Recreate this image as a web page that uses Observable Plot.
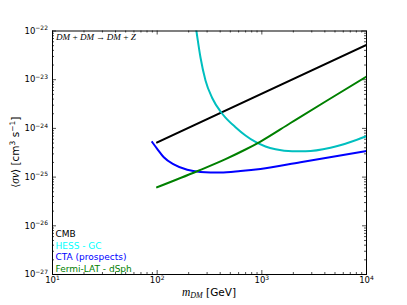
<!DOCTYPE html>
<html><head><meta charset="utf-8">
<script src="https://cdn.jsdelivr.net/npm/d3@7"></script>
<script src="https://cdn.jsdelivr.net/npm/@observablehq/plot@0.6"></script>
<style>body{margin:0;background:#fff;} svg{display:block;}</style>
</head><body><div id="chart"></div>
<script>
// ---- data ----
const cmbMass   = [100, 10000];
const cmbSigma  = [5.15e-25, 5.2e-23];

const hessMass  = [226, 237.5, 259.4, 289.6, 335.6, 402.7, 449.5, 560.3, 698.2, 869.9, 1084, 1351, 1950, 2613, 4529, 7031, 10000];
const hessSigma = [2.0e-22, 9.77e-23, 2.86e-23, 9.63e-24, 4.21e-24, 2.22e-24, 1.67e-24, 1.06e-24, 7.15e-25, 5.26e-25, 4.25e-25, 3.72e-25, 3.39e-25, 3.39e-25, 4.0e-25, 5.26e-25, 6.92e-25];

const ctaMass   = [89.7, 100, 115.7, 144.2, 193.6, 259.4, 402.7, 625, 970.6, 2339, 10000];
const ctaSigma  = [5.21e-25, 3.81e-25, 2.56e-25, 1.82e-25, 1.41e-25, 1.28e-25, 1.24e-25, 1.33e-25, 1.47e-25, 2.02e-25, 3.44e-25];

const fermiMass  = [100, 241, 450, 698, 971, 1879, 4207, 10000];
const fermiSigma = [6.2e-26, 1.32e-25, 2.34e-25, 3.69e-25, 5.38e-25, 1.29e-24, 3.74e-24, 1.16e-23];

const seriesNames  = ["CMB", "HESS - GC", "CTA (prospects)", "Fermi-LAT - dSph"];
const lineColors   = ["#000000", "#00bfbf", "#0000ff", "#008000"];
const labelColors  = ["#000000", "#00ffff", "#0000ff", "#008000"];

const xTicks    = [10, 100, 1000, 10000];
const xTickExps = ["1", "2", "3", "4"];
const yTicks    = [1e-27, 1e-26, 1e-25, 1e-24, 1e-23, 1e-22];
const yTickExps = ["\u221227", "\u221226", "\u221225", "\u221224", "\u221223", "\u221222"];
const annotation = "DM\u2009+\u2009DM\u2009\u2192\u2009DM\u2009+\u2009Z";

// ---- build tables ----
const allMass  = [cmbMass, hessMass, ctaMass, fermiMass];
const allSigma = [cmbSigma, hessSigma, ctaSigma, fermiSigma];
const series = seriesNames.map((name, k) =>
  allMass[k].map((m, i) => ({series: name, m, s: allSigma[k][i]})));

function minors(majors) {
  const out = [];
  for (let i = 0; i < majors.length - 1; i++)
    for (let k = 2; k <= 9; k++) out.push(majors[i] * k);
  return out;
}
const xMinor = minors(xTicks), yMinor = minors(yTicks);

// ---- layout ----
const W = 407, H = 305, mL = 52, mR = 41, mT = 30.5, mB = 31;
const pw = W - mL - mR, ph = H - mT - mB;
const tickStyle = {stroke: "#222", strokeWidth: 0.8};

const marks = [
  Plot.tickX(xTicks, {x: d => d, insetTop: ph - 4, ...tickStyle}),
  Plot.tickX(xTicks, {x: d => d, insetBottom: ph - 4, ...tickStyle}),
  Plot.tickX(xMinor, {x: d => d, insetTop: ph - 2, ...tickStyle}),
  Plot.tickX(xMinor, {x: d => d, insetBottom: ph - 2, ...tickStyle}),
  Plot.tickY(yTicks, {y: d => d, insetRight: pw - 4, ...tickStyle}),
  Plot.tickY(yTicks, {y: d => d, insetLeft: pw - 4, ...tickStyle}),
  Plot.tickY(yMinor, {y: d => d, insetRight: pw - 2, ...tickStyle}),
  Plot.tickY(yMinor, {y: d => d, insetLeft: pw - 2, ...tickStyle}),
  ...series.map((rows, k) => Plot.line(rows, {
    x: "m", y: "s", stroke: lineColors[k], strokeWidth: 2,
    curve: k === 0 ? "linear" : "monotone-x", strokeLinecap: "square", clip: true
  })),
  Plot.frame({stroke: "#000", strokeWidth: 1}),
  Plot.axisX({ticks: xTicks, tickFormat: d => "10^" + xTickExps[xTicks.indexOf(d)], tickSize: 0, tickPadding: 2.5, fontSize: 8.5, label: null}),
  Plot.axisY({ticks: yTicks, tickFormat: d => "10^" + yTickExps[yTicks.indexOf(d)], tickSize: 0, tickPadding: 4.5, fontSize: 8.5, label: null}),
  ...seriesNames.map((name, k) => Plot.text([name], {
    text: d => d, frameAnchor: "bottom-left", textAnchor: "start", lineAnchor: "middle",
    dx: 3, dy: -5 - (3 - k) * 11.9, fill: labelColors[k], fontSize: 9
  })),
  Plot.text([annotation], {
    text: d => d, frameAnchor: "top-left", textAnchor: "start", lineAnchor: "middle",
    dx: 3.5, dy: 6.5, fontFamily: "Liberation Serif", fontStyle: "italic", fontSize: 9.1
  })
];

const chart = Plot.plot({
  width: W, height: H, marginLeft: mL, marginRight: mR, marginTop: mT, marginBottom: mB,
  x: {type: "log", domain: [10, 10000]},
  y: {type: "log", domain: [1e-27, 1e-22]},
  style: {fontFamily: "DejaVu Sans", background: "#fff", color: "#000"},
  marks
});

const svg = d3.select(chart);

// superscript exponents in tick labels
svg.selectAll("text").each(function() {
  const t = this.textContent;
  if (!/^10\^/.test(t)) return;
  const exp = t.slice(3);
  const sel = d3.select(this);
  sel.text(null);
  sel.append("tspan").text("10");
  sel.append("tspan").attr("font-size", 6).attr("dy", -3.5).text(exp);
});

// axis titles with mixed math styling
const xl = svg.append("text").attr("x", mL + pw / 2).attr("y", H - 9)
  .attr("text-anchor", "middle").attr("font-size", 10.5).attr("fill", "#000")
  .attr("font-family", "DejaVu Sans");
xl.append("tspan").attr("font-family", "Liberation Serif").attr("font-style", "italic").attr("font-size", 11.5).text("m");
xl.append("tspan").attr("font-family", "Liberation Serif").attr("font-style", "italic").attr("font-size", 8).attr("dy", 2).text("DM");
xl.append("tspan").attr("dy", -2).text(" [GeV]");

const yl = svg.append("text")
  .attr("transform", `translate(19,${mT + ph / 2}) rotate(-90)`)
  .attr("text-anchor", "middle").attr("font-size", 10.5).attr("fill", "#000")
  .attr("font-family", "DejaVu Sans");
yl.append("tspan").attr("font-family", "DejaVu Serif").text("\u27E8");
yl.append("tspan").attr("font-family", "Liberation Serif").attr("font-style", "italic").attr("font-size", 11.5).text("σv");
yl.append("tspan").attr("font-family", "DejaVu Serif").text("\u27E9");
yl.append("tspan").text(" [cm");
yl.append("tspan").attr("font-size", 7.5).attr("dy", -4).text("3");
yl.append("tspan").attr("dy", 4).text(" s");
yl.append("tspan").attr("font-size", 7.5).attr("dy", -4).text("\u22121");
yl.append("tspan").attr("dy", 4).text("]");

document.getElementById("chart").appendChild(chart);
</script>
</body></html>
